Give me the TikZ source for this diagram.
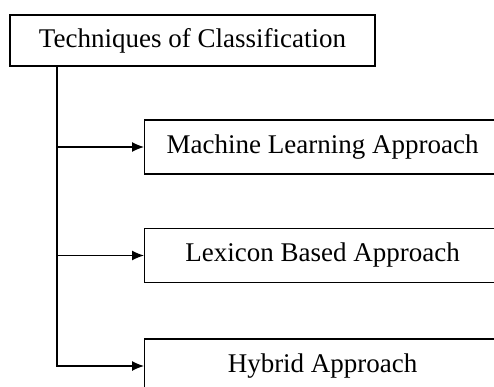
\documentclass[tikz,border=0pt]{standalone}
\usepackage{fontspec}
\setmainfont{Liberation Serif}
\usepackage{tikz}
\usetikzlibrary{shapes,arrows,arrows.meta,positioning}

\tikzstyle{headbox} = [draw=black, line width=1.2pt, rectangle, fill=white,
    minimum width=365pt, minimum height=51pt, text centered, inner sep=0pt,
    font=\fontsize{27}{32}\selectfont]
\tikzstyle{kindbox} = [draw=black, line width=1.2pt, rectangle, fill=white,
    minimum width=356pt, minimum height=54pt, text centered, inner sep=0pt,
    font=\fontsize{27}{32}\selectfont, anchor=west]
\tikzstyle{arrow} = [line width=1.2pt,-{Latex[length=12pt,width=10pt]}]

\begin{document}
\begin{tikzpicture}[x=1pt,y=-1pt]
\useasboundingbox (0,0) rectangle (494,387);
\clip (0,0) rectangle (494,387);
\node [headbox] (tech) at (192.5,40.5) {Techniques of Classification};
\node [kindbox] (ml)  at (144,147) {Machine Learning Approach};
\node [kindbox] (lex) at (144,255.5) {Lexicon Based Approach};
\node [kindbox] (hyb) at (144,366) {Hybrid Approach};
% trunk coming down from the head box
\coordinate (trunk) at ([xshift=47.5pt]tech.south west);
\draw [arrow] (trunk) |- (hyb.west);
\draw [arrow] (trunk |- ml.west) -- (ml.west);
\draw [arrow] (trunk |- lex.west) -- (lex.west);
\end{tikzpicture}
\end{document}
